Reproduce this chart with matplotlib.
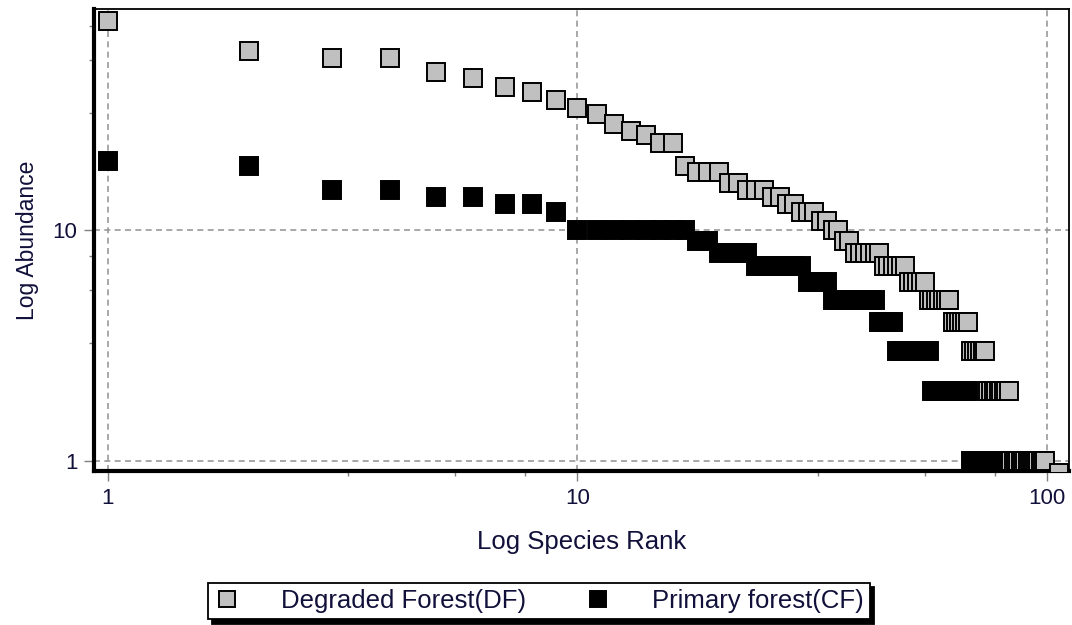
import matplotlib
matplotlib.use('Agg')
import matplotlib.pyplot as plt
from matplotlib import ticker

plt.rcParams['font.family'] = ['Liberation Sans', 'DejaVu Sans']

# Degraded Forest (DF) abundance by species rank 1..99
df_abund = [81, 60, 56, 56, 49, 46, 42, 40, 37, 34,
            32, 29, 27, 26, 24, 24, 19, 18, 18, 18,
            16, 16, 15, 15, 15, 14, 14, 13, 13, 12,
            12, 12, 11, 11, 10, 10, 9, 9, 8, 8,
            8, 8, 8, 8, 7, 7, 7, 7, 7, 7,
            6, 6, 6, 6, 6, 5, 5, 5, 5, 5,
            5, 5, 4, 4, 4, 4, 4, 4, 3, 3,
            3, 3, 3, 3, 2, 2, 2, 2, 2, 2,
            2, 2, 2, 1, 1, 1, 1, 1, 1, 1,
            1, 1, 1, 1, 1, 1, 1, 1, 1]
df_ranks = list(range(1, len(df_abund) + 1))
# last DF point, sits at the bottom right corner
df_tail_rank = [106]
df_tail_abund = [0.88]

# Primary forest (CF) abundance by species rank 1..90
cf_abund = [20, 19, 15, 15, 14, 14, 13, 13, 12, 10,
            10, 10, 10, 10, 10, 10, 10, 9, 9, 8,
            8, 8, 8, 7, 7, 7, 7, 7, 7, 7,
            6, 6, 6, 6, 5, 5, 5, 5, 5, 5,
            5, 5, 5, 4, 4, 4, 4, 3, 3, 3,
            3, 3, 3, 3, 3, 3, 2, 2, 2, 2,
            2, 2, 2, 2, 2, 2, 2, 2, 1, 1,
            1, 1, 1, 1, 1, 1, 1, 1, 1, 1,
            1, 1, 1, 1, 1, 1, 1, 1, 1, 1]
cf_ranks = list(range(1, len(cf_abund) + 1))

x_major = [1, 10, 100]
x_major_labels = ['1', '10', '100']
y_major = [1, 10]
y_major_labels = ['1', '10']
minor_ticks = [3.25, 5.5, 7.75, 32.5, 55, 77.5]

W, H = 1072, 625
text_col = '#10103a'

fig = plt.figure(figsize=(W / 100, H / 100), dpi=100)
ax = fig.add_axes([94 / W, 1 - 471 / H, (1069 - 94) / W, (471 - 9) / H])

ax.set_xscale('log')
ax.set_yscale('log')
ax.set_xlim(0.935, 111.5)
ax.set_ylim(0.901, 91.7)

cf_line, = ax.plot(cf_ranks, cf_abund, ls='none', marker='s', ms=13.5,
                   mfc='black', mec='black', mew=1.4, zorder=3,
                   label='Primary forest(CF)')
df_line, = ax.plot(df_ranks + df_tail_rank, df_abund + df_tail_abund, ls='none',
                   marker='s', ms=13.5, mfc='#c0c0c0', mec='black', mew=1.4,
                   zorder=4, label='Degraded Forest(DF)')

ax.set_xticks(x_major)
ax.set_xticklabels(x_major_labels)
ax.set_yticks(y_major)
ax.set_yticklabels(y_major_labels)
ax.xaxis.set_minor_locator(ticker.FixedLocator(minor_ticks))
ax.yaxis.set_minor_locator(ticker.FixedLocator(minor_ticks))
ax.xaxis.set_minor_formatter(ticker.NullFormatter())
ax.yaxis.set_minor_formatter(ticker.NullFormatter())

ax.tick_params(which='major', length=7, width=1, color='#808080',
               labelsize=16, labelcolor=text_col, pad=5)
ax.tick_params(which='minor', length=3.5, width=1, color='#808080')

ax.grid(True, which='major', ls=(0, (3.6, 2.6)), color='#9a9a9a', lw=1.2, zorder=1)

for side in ['left', 'bottom']:
    ax.spines[side].set_linewidth(3)
for side in ['top', 'right']:
    ax.spines[side].set_linewidth(1.3)

ax.set_xlabel('Log Species Rank', fontsize=18.5, color=text_col, labelpad=15)
ax.set_ylabel('Log Abundance', fontsize=16.5, color=text_col, labelpad=10)

leg = fig.legend(handles=[df_line, cf_line], loc='center',
                 bbox_to_anchor=(539 / W, 1 - 601 / H), ncol=2, fontsize=18.5,
                 frameon=True, fancybox=False, edgecolor='black', framealpha=1,
                 shadow={'ox': 3, 'oy': -3, 'color': 'black', 'alpha': 1},
                 markerscale=0.9, handlelength=1.0, handletextpad=1.6,
                 columnspacing=2.3, borderpad=0.25, labelcolor=text_col)
leg.get_frame().set_linewidth(1.3)

fig.savefig('out.png', dpi=100)
